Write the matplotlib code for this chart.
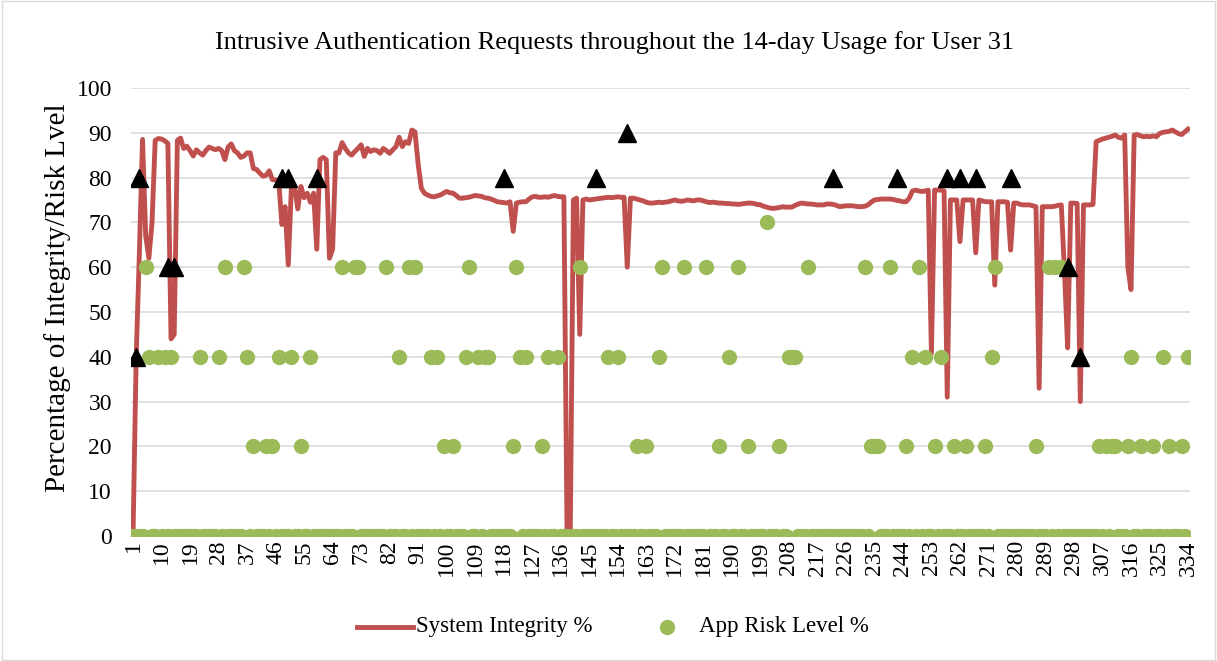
import numpy as np
import matplotlib
matplotlib.use('Agg')
import matplotlib.pyplot as plt
from matplotlib.lines import Line2D
from matplotlib.patches import Rectangle

plt.rcParams['font.family'] = ['Liberation Serif', 'DejaVu Serif']

###===========================================================
# data (sample index 1..334)
integrity = [
    0, 40, 63, 88.5, 67, 62, 70, 88.3, 88.7, 88.6,
    88.2, 87.6, 44, 45, 88.3, 88.8, 86.5, 87, 86, 84.8,
    86.2, 85.5, 85, 86, 86.8, 86.5, 86.2, 86.5, 86, 84,
    86.8, 87.5, 86, 85.5, 84.5, 84.8, 85.5, 85.5, 82, 81.8,
    81, 80.3, 80.5, 81.5, 79.5, 79.5, 79, 69.5, 73.5, 60.5,
    78, 78, 73, 78, 75.5, 76.5, 74.5, 76.5, 64, 84,
    84.5, 84, 62, 64, 85.5, 85.5, 87.8, 86.5, 85.5, 85,
    85.8, 86.5, 87.3, 84.7, 86.5, 85.8, 86.2, 86, 85.4, 86.5,
    86, 85.4, 86.2, 86.9, 89, 86.9, 88, 87.6, 90.6, 90.2,
    83, 77.6, 76.5, 76.1, 75.8, 75.7, 75.9, 76.1, 76.5, 76.9,
    76.6, 76.5, 76, 75.4, 75.4, 75.5, 75.6, 75.8, 76, 75.9,
    75.8, 75.5, 75.4, 75.2, 74.9, 74.6, 74.5, 74.4, 74.3, 74.6,
    68, 74.3, 74.5, 74.6, 74.6, 75.2, 75.7, 75.8, 75.6, 75.6,
    75.7, 75.6, 75.8, 76, 75.8, 75.7, 75.7, 0, 0, 75,
    75.4, 45, 75, 75.2, 75, 75.1, 75.2, 75.3, 75.4, 75.5,
    75.6, 75.5, 75.6, 75.7, 75.6, 75.6, 60, 75.4, 75.4, 75.2,
    75, 74.8, 74.5, 74.3, 74.3, 74.4, 74.5, 74.4, 74.5, 74.6,
    74.8, 75, 74.8, 74.7, 74.8, 75, 74.9, 74.8, 75, 75,
    74.8, 74.6, 74.4, 74.5, 74.4, 74.3, 74.3, 74.2, 74.2, 74.1,
    74.1, 74, 74.1, 74.2, 74.3, 74.3, 74.2, 74, 73.9, 73.6,
    73.4, 73.2, 73.1, 73.2, 73.3, 73.5, 73.4, 73.4, 73.4, 73.8,
    74.1, 74.3, 74.2, 74.1, 74.1, 74, 73.9, 73.9, 73.9, 74.1,
    74.1, 74, 73.8, 73.5, 73.6, 73.7, 73.7, 73.7, 73.6, 73.5,
    73.5, 73.6, 73.9, 74.5, 75, 75.1, 75.2, 75.2, 75.2, 75.2,
    75.1, 74.9, 74.8, 74.6, 74.6, 75.4, 77, 77.2, 77, 76.9,
    77, 77.2, 40.8, 77.2, 77.2, 77.2, 77, 31, 75, 75,
    75, 65.7, 75, 75, 75, 75, 63.2, 75, 74.8, 74.6,
    74.6, 74.6, 56, 74.6, 74.6, 74.6, 74.5, 63.8, 74.3, 74.3,
    74, 73.9, 73.9, 73.9, 73.7, 73.5, 33, 73.5, 73.5, 73.5,
    73.5, 73.6, 73.8, 73.9, 59, 42, 74.3, 74.3, 74.2, 30,
    73.9, 73.9, 73.9, 74, 88, 88.3, 88.6, 88.8, 89, 89.2,
    89.5, 89, 88.8, 89.5, 60, 55, 89.5, 89.6, 89.3, 89.1,
    89.2, 89.1, 89.3, 89.1, 89.8, 90.1, 90.2, 90.3, 90.6, 90.2,
    89.8, 89.6, 90.2, 90.8,
]

# app risk level: 0 everywhere except these samples
risk60_idx = [5, 30, 36, 67, 71, 72, 81, 88, 90, 107, 122, 142, 168, 175, 182,
              192, 214, 232, 240, 249, 273, 290, 292, 294]
risk70_idx = [201]
risk40_idx = [6, 9, 11, 13, 22, 28, 37, 47, 51, 57, 85, 95, 97, 106, 110, 112,
              113, 123, 125, 132, 135, 151, 154, 167, 189, 208, 209, 210, 247,
              251, 256, 272, 316, 326, 334]
risk20_idx = [39, 43, 45, 54, 99, 102, 121, 130, 160, 163, 186, 195, 205, 234,
              235, 236, 245, 254, 260, 264, 270, 286, 306, 308, 310, 311, 315,
              319, 323, 328, 332]

# intrusive authentication requests (black triangles)
auth_idx = [2, 3, 12, 14, 48, 50, 59, 118, 147, 157, 222, 242, 258, 262, 267,
            278, 296, 300]
auth_val = [40, 80, 60, 60, 80, 80, 80, 80, 80, 90, 80, 80, 80, 80, 80,
            80, 60, 40]

###===========================================================
n = len(integrity)
x = np.arange(1, n + 1)
risk = np.zeros(n)
for lvl, ids in [(60, risk60_idx), (70, risk70_idx), (40, risk40_idx), (20, risk20_idx)]:
    for i in ids:
        risk[i - 1] = lvl

red = '#C0504D'
green = '#9BBB59'
grid_c = '#D9D9D9'

fig = plt.figure(figsize=(12.17, 6.61), dpi=100)
ax = fig.add_axes([0.108, 0.189, 0.8695, 0.678])

ax.plot(x, integrity, color=red, lw=3.5, solid_joinstyle='round', zorder=3)
ax.plot(x, risk, ls='none', marker='o', ms=10, color=green, mec=green, zorder=4)
ax.plot(auth_idx, auth_val, ls='none', marker='^', ms=13, color='black', zorder=5)

ax.set_xlim(0.5, n + 0.5)
ax.set_ylim(0, 100)
ax.set_yticks(np.arange(0, 101, 10))
ax.set_xticks(np.arange(1, n + 1, 9))
ax.set_xticklabels([str(v) for v in range(1, n + 1, 9)], rotation=90, fontsize=17)
ax.tick_params(axis='y', labelsize=17, length=0, pad=14)
ax.tick_params(axis='x', length=0, pad=3)
ax.grid(axis='y', color=grid_c, lw=1.1, zorder=0)
for s in ['top', 'right', 'left']:
    ax.spines[s].set_visible(False)
ax.spines['bottom'].set_color(grid_c)
ax.spines['bottom'].set_linewidth(1.1)
ax.set_axisbelow(True)

ax.set_ylabel('Percentage of Integrity/Risk Lvel', fontsize=21)
ax.yaxis.set_label_coords(-0.057, 0.533)
fig.text(0.505, 0.936, 'Intrusive Authentication Requests throughout the 14-day Usage for User 31',
         ha='center', va='center', fontsize=19)

# legend drawn by hand (excel layout)
ly = 0.052
fig.add_artist(Line2D([0.293, 0.339], [ly, ly], color=red, lw=3.5, transform=fig.transFigure))
fig.text(0.342, ly, 'System Integrity %', ha='left', va='center', fontsize=16.5)
fig.add_artist(Line2D([0.548], [ly], ls='none', marker='o', ms=10, color=green,
                      transform=fig.transFigure))
fig.text(0.574, ly, 'App Risk Level %', ha='left', va='center', fontsize=16.5)

# chart border like the exported excel chart
fig.patches.append(Rectangle((0.002, 0.002), 0.996, 0.996, transform=fig.transFigure,
                             fill=False, edgecolor=grid_c, lw=1))

plt.savefig('out.png', dpi=100)
